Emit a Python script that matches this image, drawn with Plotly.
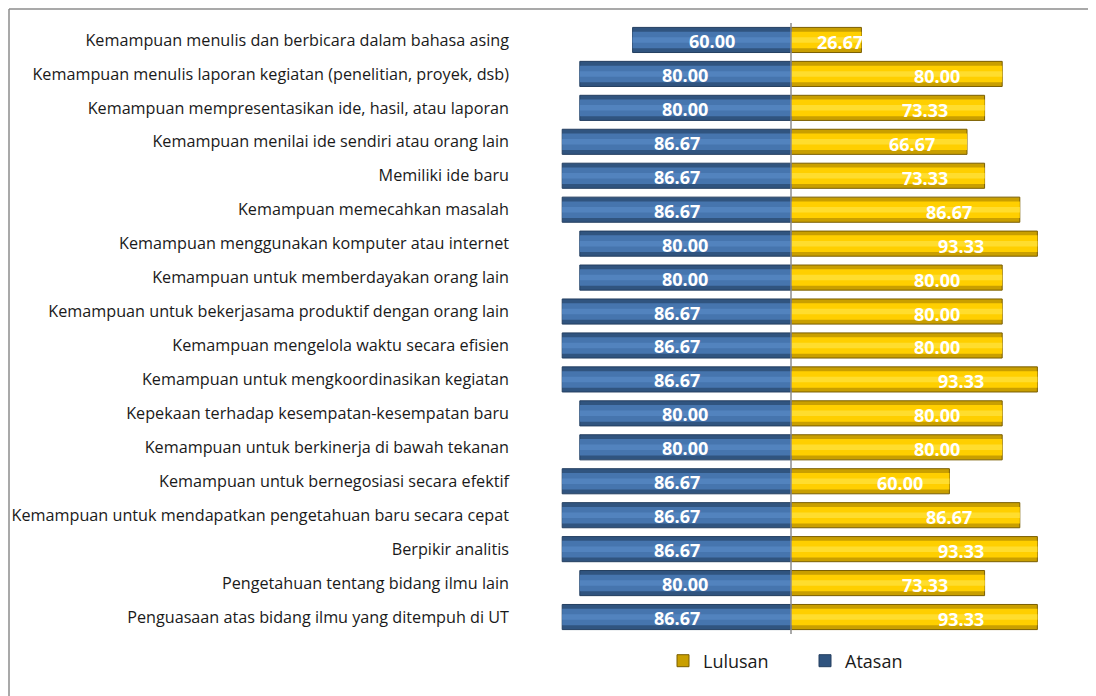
import plotly.graph_objects as go

categories = [
    "Kemampuan menulis dan berbicara dalam bahasa asing",
    "Kemampuan menulis laporan kegiatan (penelitian, proyek, dsb)",
    "Kemampuan mempresentasikan ide, hasil, atau laporan",
    "Kemampuan menilai ide sendiri atau orang lain",
    "Memiliki ide baru",
    "Kemampuan memecahkan masalah",
    "Kemampuan menggunakan komputer atau internet",
    "Kemampuan untuk memberdayakan orang lain",
    "Kemampuan untuk bekerjasama produktif dengan orang lain",
    "Kemampuan mengelola waktu secara efisien",
    "Kemampuan untuk mengkoordinasikan kegiatan",
    "Kepekaan terhadap kesempatan-kesempatan baru",
    "Kemampuan untuk berkinerja di bawah tekanan",
    "Kemampuan untuk bernegosiasi secara efektif",
    "Kemampuan untuk mendapatkan pengetahuan baru secara cepat",
    "Berpikir analitis",
    "Pengetahuan tentang bidang ilmu lain",
    "Penguasaan atas bidang ilmu yang ditempuh di UT",
]
atasan = [60.00, 80.00, 80.00, 86.67, 86.67, 86.67, 80.00, 80.00, 86.67,
          86.67, 86.67, 80.00, 80.00, 86.67, 86.67, 86.67, 80.00, 86.67]
lulusan = [26.67, 80.00, 73.33, 66.67, 73.33, 86.67, 93.33, 80.00, 80.00,
           80.00, 93.33, 80.00, 80.00, 60.00, 86.67, 93.33, 73.33, 93.33]

# page body has an 8px margin, so the figure is offset by 8px
W, H = 1088, 688
ML, MR, MT, MB = 519, 41, 15, 62
pw, ph = W - ML - MR, H - MT - MB

atasan_neg = [-v for v in atasan]
BW = 0.74
font_fam = "Open Sans, Noto Sans, sans-serif"
GOLD_LABEL_FRAC = 0.69   # where the gold value labels sit along their bar
BLUE_LABEL_FRAC = 0.5

fig = go.Figure()
fig.add_trace(go.Bar(y=categories, x=lulusan, orientation="h", name="Lulusan",
                     width=BW, marker=dict(color="#C99F00", line=dict(color="#7A5E00", width=1)),
                     hoverinfo="skip"))
fig.add_trace(go.Bar(y=categories, x=atasan_neg, orientation="h", name="Atasan",
                     width=BW, marker=dict(color="#30547F", line=dict(color="#243F61", width=1)),
                     hoverinfo="skip"))
fig.add_trace(go.Bar(y=categories, x=lulusan, orientation="h", showlegend=False,
                     width=BW * 0.66, marker=dict(color="#FFCF00", line=dict(width=0)),
                     hoverinfo="skip"))
fig.add_trace(go.Bar(y=categories, x=atasan_neg, orientation="h", showlegend=False,
                     width=BW * 0.66, marker=dict(color="#4675AE", line=dict(width=0)),
                     hoverinfo="skip"))
fig.add_trace(go.Bar(y=categories, x=lulusan, orientation="h", showlegend=False,
                     width=BW * 0.22, marker=dict(color="#FFDD2E", line=dict(width=0)),
                     hoverinfo="skip"))
fig.add_trace(go.Bar(y=categories, x=atasan_neg, orientation="h", showlegend=False,
                     width=BW * 0.22, marker=dict(color="#5283BE", line=dict(width=0)),
                     hoverinfo="skip"))

# value labels
for cat, v in zip(categories, lulusan):
    fig.add_annotation(x=v * GOLD_LABEL_FRAC, y=cat, xref="x", yref="y",
                       text=f"<b>{v:.2f}</b>", showarrow=False, xanchor="center",
                       yshift=-2, font=dict(color="white", size=18, family=font_fam))
for cat, v in zip(categories, atasan):
    fig.add_annotation(x=-v * BLUE_LABEL_FRAC, y=cat, xref="x", yref="y",
                       text=f"<b>{v:.2f}</b>", showarrow=False, xanchor="center",
                       yshift=-1, font=dict(color="white", size=18, family=font_fam))

fig.add_shape(type="line", xref="x", yref="paper", x0=0, x1=0, y0=0, y1=1,
              line=dict(color="#8C8C8C", width=1.5), layer="above")
fx = (1 - ML) / pw
fy = 1 + (MT - 1) / ph
fig.add_shape(type="line", xref="paper", yref="paper", x0=fx, x1=2, y0=fy, y1=fy,
              line=dict(color="#8C8C8C", width=1.5))
fig.add_shape(type="line", xref="paper", yref="paper", x0=fx, x1=fx, y0=fy, y1=-1,
              line=dict(color="#8C8C8C", width=1.5))

fig.update_layout(
    width=W, height=H,
    margin=dict(l=ML, r=MR, t=MT, b=MB, autoexpand=False),
    barmode="overlay",
    plot_bgcolor="white", paper_bgcolor="white",
    font=dict(family=font_fam, color="#1a1a1a"),
    xaxis=dict(range=[-100, 100], showgrid=False, zeroline=False, automargin=False,
               showticklabels=False, ticks=""),
    yaxis=dict(autorange="reversed", showgrid=False, zeroline=False, ticks="",
               automargin=False,
               tickfont=dict(size=16.2, color="#1a1a1a", family=font_fam),
               ticklabelstandoff=17),
    legend=dict(orientation="h", x=(676 - 21 - ML) / pw, xanchor="left",
                y=-(653 - (H - MB)) / ph, yanchor="middle",
                font=dict(size=18, color="#1a1a1a", family=font_fam),
                traceorder="normal", entrywidth=97, entrywidthmode="pixels",
                itemwidth=30),
    showlegend=True,
)

fig.write_html("out.html")
